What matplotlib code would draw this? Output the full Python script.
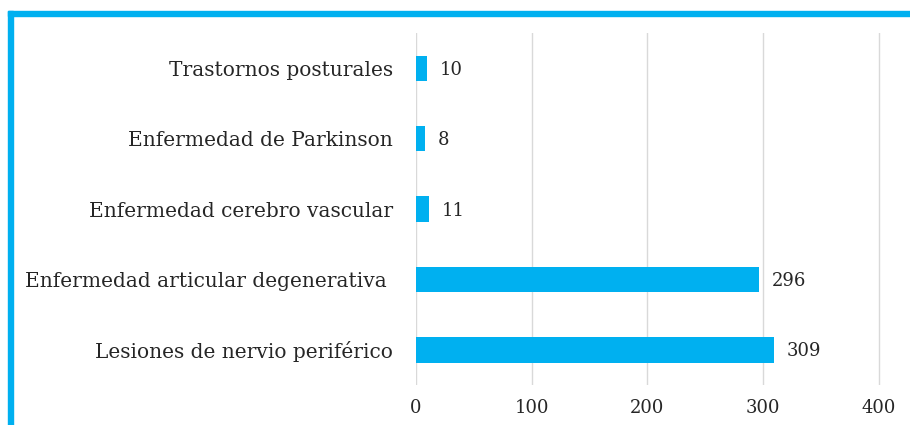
import matplotlib
matplotlib.use("Agg")
import matplotlib.pyplot as plt
from matplotlib.patches import Rectangle

# data (top to bottom as drawn)
categories = [
    "Trastornos posturales",
    "Enfermedad de Parkinson",
    "Enfermedad cerebro vascular",
    "Enfermedad articular degenerativa ",
    "Lesiones de nervio periférico",
]
values = [10, 8, 11, 296, 309]
xticks = [0, 100, 200, 300, 400]

BLUE = "#00B0F0"
plt.rcParams["font.family"] = ["DejaVu Serif"]

fig = plt.figure(figsize=(9.1, 4.25), dpi=100)
# x range padded a little so the 400 gridline isn't clipped
ax = fig.add_axes([0.457, 0.094, 0.509 * 404 / 400, 0.828])

ypos = list(range(len(categories)))
ax.barh(ypos, values, height=0.36, color=BLUE, zorder=3)
for y, v in zip(ypos, values):
    ax.text(v + 11, y + 0.02, str(v), va="center", ha="left", fontsize=13, color="#262626")

ax.set_xlim(0, 404)
ax.set_ylim(len(categories) - 0.5, -0.5)
ax.set_xticks(xticks)
ax.set_xticklabels([str(t) for t in xticks], fontsize=13, color="#262626")
ax.set_yticks(ypos)
ax.set_yticklabels(categories, fontsize=14.5, color="#262626")
ax.tick_params(length=0, pad=16.5, axis="y")
ax.tick_params(length=0, pad=10, axis="x")
ax.grid(axis="x", color="#d9d9d9", linewidth=1, zorder=0)
for s in ax.spines.values():
    s.set_visible(False)

# outer frame lines (top and left only)
W, H = 910, 425
fig.patches.append(Rectangle((8 / W, 1 - 16 / H), 1, 5 / H, transform=fig.transFigure,
                             color=BLUE, zorder=0))
fig.patches.append(Rectangle((8 / W, 0), 5 / W, 1 - 11 / H, transform=fig.transFigure,
                             color=BLUE, zorder=0))

fig.savefig("out.png", dpi=100)
